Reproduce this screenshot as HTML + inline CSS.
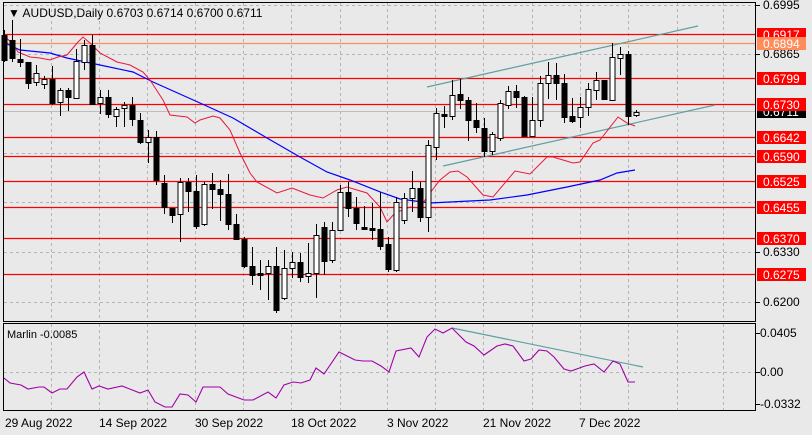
<!DOCTYPE html>
<html><head><meta charset="utf-8"><style>
body{margin:0;background:#e9e9e9;width:812px;height:435px;overflow:hidden}
svg{display:block;font-family:"Liberation Sans",sans-serif}
</style></head><body>
<svg id="s" width="812" height="435" xmlns="http://www.w3.org/2000/svg">
<rect width="812" height="435" fill="#e9e9e9"/>
<g id="grid" stroke="#b4b4b4" stroke-dasharray="3,3" stroke-width="1"></g>
<g id="hl"></g>
<g id="ma" fill="none"></g>
<g id="cd"></g>
<!-- borders -->
<rect x="3.5" y="2.5" width="752" height="319" fill="none" stroke="#000"/>
<rect x="3.5" y="323.5" width="752" height="87" fill="none" stroke="#000"/>
<text x="8" y="17" font-size="12" fill="#000">▼ AUDUSD,Daily  0.6703 0.6714 0.6700 0.6711</text>
<text x="7" y="338" font-size="11" fill="#000">Marlin -0.0085</text>
<g id="lbl" font-size="12"></g>
<g font-size="12" fill="#000">
<text x="5" y="427">29 Aug 2022</text>
<text x="99" y="427">14 Sep 2022</text>
<text x="195" y="427">30 Sep 2022</text>
<text x="291" y="427">18 Oct 2022</text>
<text x="387" y="427">3 Nov 2022</text>
<text x="483" y="427">21 Nov 2022</text>
<text x="579" y="427">7 Dec 2022</text>
</g>
</svg>
<script>
const NS="http://www.w3.org/2000/svg";
function el(p,t,a){const e=document.createElementNS(NS,t);for(const k in a)e.setAttribute(k,a[k]);document.getElementById(p).appendChild(e);return e;}
// grid
[51,99,147,195,243,291,340,387,435,483,532,580,628,677,723].forEach(x=>{el('grid','line',{x1:x+.5,y1:3,x2:x+.5,y2:321});el('grid','line',{x1:x+.5,y1:324,x2:x+.5,y2:410});});
[5,54,104,153,202,252,302].forEach(y=>el('grid','line',{x1:4,y1:y+.5,x2:755,y2:y+.5}));
el('grid','line',{x1:4,y1:372.5,x2:755,y2:372.5});
// current price line
el('hl','line',{x1:4,y1:111.5,x2:755,y2:111.5,stroke:'#bdbdbd'});
// horizontal levels
const lv=[[34,'0.6917','#ff0000'],[43,'0.6894','#ff8c5a'],[78,'0.6799','#ff0000'],[104,'0.6730','#ff0000'],[137,'0.6642','#ff0000'],[156,'0.6590','#ff0000'],[181,'0.6525','#ff0000'],[207,'0.6455','#ff0000'],[238,'0.6370','#ff0000'],[274,'0.6275','#ff0000']];
lv.forEach(l=>el('hl','line',{x1:4,y1:l[0]+.5,x2:755,y2:l[0]+.5,stroke:l[2],'stroke-width':1.3}));
// channel
el('hl','line',{x1:427,y1:87,x2:698,y2:26,stroke:'#5f9ea0','stroke-width':1.2});
el('hl','line',{x1:443,y1:166,x2:715,y2:105,stroke:'#5f9ea0','stroke-width':1.2});
el('hl','line',{x1:452,y1:328,x2:643,y2:367,stroke:'#5f9ea0','stroke-width':1.2});
// MAs
const red=[[3,35],[12,43],[18,52],[30,57],[40,58],[50,60],[58,57],[67,55],[78,42],[83,37],[90,43],[100,53],[117,62],[130,65],[143,72],[150,80],[163,100],[170,115],[187,117],[195,123],[200,120],[213,116],[220,118],[230,130],[240,153],[250,173],[257,182],[277,193],[292,188],[310,195],[323,198],[337,190],[347,187],[367,193],[380,207],[387,222],[395,213],[410,207],[420,208],[423,203],[430,193],[440,180],[450,172],[458,171],[467,177],[483,195],[493,197],[515,171],[530,174],[547,157],[553,157],[573,163],[580,162],[593,143],[600,140],[618,117],[627,123],[635,126]];
const blue=[[3,42],[20,50],[50,53],[67,58],[100,65],[133,72],[153,82],[200,103],[233,118],[267,138],[300,157],[327,172],[350,180],[383,193],[400,199],[430,203],[490,200],[527,195],[567,187],[600,180],[617,173],[635,170]];
const mar=[[4,378],[10,383],[21,385],[28,389],[39,387],[44,387],[52,393],[60,389],[67,389],[77,377],[84,372],[92,389],[99,386],[108,389],[122,386],[140,393],[148,390],[155,402],[165,407],[172,407],[180,394],[188,395],[196,402],[203,387],[220,387],[228,394],[244,400],[253,400],[268,392],[276,398],[284,385],[293,382],[301,383],[310,380],[316,368],[324,374],[339,352],[355,360],[363,361],[372,361],[381,366],[389,372],[396,351],[411,348],[419,357],[427,337],[435,329],[443,333],[452,328],[466,342],[474,346],[484,355],[497,346],[505,344],[513,346],[524,361],[531,359],[539,350],[547,351],[554,357],[564,369],[571,371],[585,366],[594,364],[604,372],[613,361],[620,364],[628,382],[635,382]];
el('ma','polyline',{points:blue.join(' '),stroke:'#0000ff','stroke-width':1.2});
el('ma','polyline',{points:red.join(' '),stroke:'#e8173a','stroke-width':1});
el('ma','polyline',{points:mar.join(' '),stroke:'#a000a8','stroke-width':1.1});
// candles: [open_y? ] -> [bodyTop, bodyBot, high, low, white]
const C=[[35,60,30,62,0],[40,58,20,62,0],[59,62,39,67,0],[62,83,62,89,0],[73,82,65,86,1],[79,84,76,89,1],[79,103,66,105,0],[90,102,88,116,1],[90,97,88,111,0],[61,98,49,98,1],[45,62,40,70,1],[45,104,35,105,0],[97,103,90,114,1],[97,114,90,118,0],[109,116,107,127,1],[105,108,102,127,1],[105,119,97,126,0],[120,142,113,144,0],[137,142,130,163,1],[137,180,131,185,0],[183,207,175,214,0],[208,215,208,223,0],[182,214,178,242,1],[182,191,178,212,0],[191,226,175,229,0],[184,224,182,226,1],[184,189,173,209,0],[189,194,180,221,0],[194,224,174,230,0],[224,239,214,240,0],[239,266,237,268,0],[266,275,247,285,0],[273,275,260,290,0],[266,273,260,300,1],[266,310,247,313,0],[268,298,250,300,1],[262,268,252,278,1],[262,277,253,282,0],[273,276,243,283,1],[235,273,224,298,1],[227,261,222,275,0],[230,260,222,263,1],[192,230,185,230,1],[192,208,182,217,0],[208,223,197,230,0],[227,229,206,230,0],[228,230,203,240,0],[229,246,192,250,0],[244,269,237,272,0],[202,270,197,272,1],[198,220,193,224,1],[188,198,171,212,1],[188,217,182,222,0],[145,217,140,232,1],[113,147,108,160,1],[114,116,106,128,0],[95,116,80,120,1],[94,100,79,109,0],[100,120,97,141,0],[120,127,103,133,0],[128,151,118,157,0],[134,151,132,155,1],[103,138,100,141,1],[91,105,86,109,1],[91,97,85,108,0],[97,136,96,137,0],[120,136,97,137,1],[83,120,76,127,1],[75,83,62,99,1],[75,83,63,100,0],[83,117,74,123,0],[116,121,98,123,0],[107,117,97,128,1],[89,107,83,116,1],[80,90,72,100,1],[80,99,80,100,0],[57,100,43,101,1],[54,58,47,75,1],[54,116,51,125,0],[112,115,110,117,1]];
C.forEach((c,i)=>{const x=Math.round(3.5+8*i)+0.5;if(x<4)return;
el('cd','line',{x1:x,y1:c[2],x2:x,y2:c[3],stroke:'#000'});
const h=Math.max(1,c[1]-c[0]);
el('cd','rect',{x:x-2.5,y:c[0]+.5,width:5,height:h,fill:c[4]?'#fff':'#000',stroke:'#000'});});
// axis labels
const L=document.getElementById('lbl');
[[5,'0.6995'],[54,'0.6865'],[252,'0.6330'],[302,'0.6200']].forEach(a=>{el('lbl','line',{x1:756,y1:a[0]+.5,x2:760,y2:a[0]+.5,stroke:'#000'});const t=el('lbl','text',{x:763,y:a[0]+4});t.textContent=a[1];});
el('lbl','rect',{x:757,y:106,width:49,height:12,fill:'#000'});
let t=el('lbl','text',{x:763,y:116,fill:'#fff'});t.textContent='0.6711';
lv.forEach(l=>{el('lbl','rect',{x:757,y:l[0]-6,width:49,height:13,fill:l[2]});const u=el('lbl','text',{x:763,y:l[0]+5,fill:'#fff'});u.textContent=l[1];});
[[333,'0.0405'],[372,'0.00'],[404,'-0.0332']].forEach(a=>{el('lbl','line',{x1:756,y1:a[0]+.5,x2:760,y2:a[0]+.5,stroke:'#000'});const t=el('lbl','text',{x:760,y:a[0]+4});t.textContent=a[1];});
</script>
</body></html>
